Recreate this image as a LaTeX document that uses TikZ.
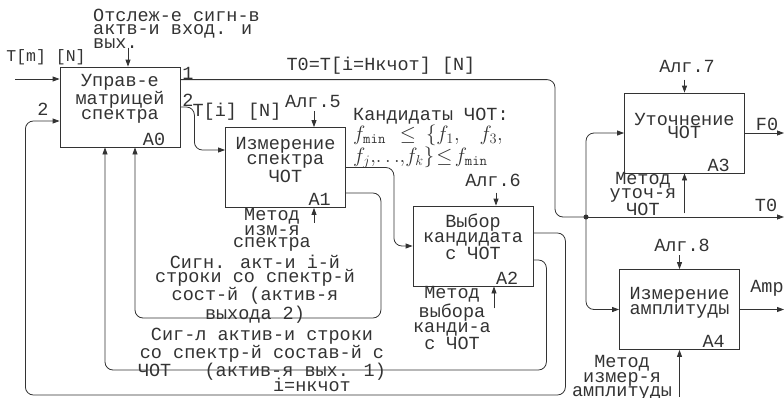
\documentclass[tikz,border=0pt]{standalone}
\usepackage[no-math]{fontspec}
\setmainfont{Liberation Mono}
\usetikzlibrary{arrows.meta}

\begin{document}
\begin{tikzpicture}[x=1pt,y=-1pt,
		box/.style={draw=black!80, line width=0.8pt, minimum width=120pt, minimum height=80pt, inner sep=0pt},
		txt/.style={align=center, inner sep=0pt, text=black!80, font=\fontsize{18.5}{12}\selectfont},
		arr/.style={draw=black!80, line width=0.8pt, rounded corners=8pt, -{Triangle[length=7pt,width=5pt]}},
		wire/.style={draw=black!80, line width=0.8pt, rounded corners=8pt}]
		\useasboundingbox (0,0) rectangle (784,397);
		\node[box] (a0) at (120,107) {};
		\node[box] (a1) at (285.5,167.5) {};
		\node[box] (a2) at (473,246) {};
		\node[box] (a3) at (684.5,133) {};
		\node[box] (a4) at (679.5,309.5) {};
		\node[txt] (a0t) at (120,99) {Управ-е\\матрицей\\спектра};
		\node[txt, font=\fontsize{18.5}{13.5}\selectfont] (a1t) at (285.5,160) {Измерение\\спектра\\ЧОТ};
		\node[txt, font=\fontsize{18.5}{13.5}\selectfont] (a2t) at (473,237) {Выбор\\кандидата\\с ЧОТ};
		\node[txt] (a3t) at (684.5,126) {Уточнение\\ЧОТ};
		\node[txt] (a4t) at (679.5,303) {Измерение\\амплитуды};
		\node[txt, anchor=south east] (a0n) at ([xshift=-15pt,yshift=2pt]a0.south east) {A0};
		\node[txt, anchor=south east] (a1n) at ([xshift=-15pt,yshift=2pt]a1.south east) {A1};
		\node[txt, anchor=south east] (a2n) at ([xshift=-15pt,yshift=2pt]a2.south east) {A2};
		\node[txt, anchor=south east] (a3n) at ([xshift=-15pt,yshift=2pt]a3.south east) {A3};
		\node[txt, anchor=south east] (a4n) at ([xshift=-15pt,yshift=2pt]a4.south east) {A4};

		\coordinate (in0) at (15,79);
		\coordinate (a0c) at ([xshift=8pt]a0.north);
		\coordinate (a0o1) at ([yshift=-13pt]a0.north east);
		\coordinate (a0i2) at ([yshift=-14pt]a0.west);
		\coordinate (a1i) at ([yshift=17.5pt]a1.west);
		\coordinate (a1o2) at ([yshift=-25.5pt]a1.east);
		\coordinate (a1c) at ([xshift=28.5pt]a1.north);
		\coordinate (a1m) at ([xshift=28.5pt]a1.south);
		\coordinate (a2o1) at ([yshift=13pt]a2.east);
		\coordinate (a2o2) at ([yshift=-14pt]a2.east);
		\coordinate (a2c) at ([xshift=23pt]a2.north);
		\coordinate (a2m) at ([xshift=21pt]a2.south);
		\coordinate (a3c) at (a3.north);
		\coordinate (a3m) at (a3.south);
		\coordinate (a4c) at (a4.north);
		\coordinate (a4m) at (a4.south);
		\coordinate (dot) at (586,217);
		\coordinate (t0end) at (784,217);
		\coordinate (f0end) at (784,133);
		\coordinate (ampend) at (784,309.5);

		\draw[arr] (in0) -- (in0 -| a0.west);
		\draw[arr] ([yshift=19pt]a0c) -- (a0c);
		\draw[wire] (a0o1) -| ([xshift=-31pt]dot) -- (dot);
		\draw[arr] (dot) -- (t0end);
		\draw[arr] (dot) |- (a3.west);
		\draw[arr] (dot) |- (a4.west);
		\fill[black!80] (dot) circle (2.5pt);
		\draw[arr] (a0.east) -- ++(14,0) |- (a1i);
		\draw[arr] (a1.east) -- ++(48,0) |- (a2.west);
		\draw[arr] (a1o2) -- ++(35,0) -- ++(0,125) -| ([xshift=15pt]a0.south);
		\draw[arr] (a2o1) -- ++(32,0) -- ++(0,162) -- ++(-540,0) |- (a0i2);
		\draw[arr] (a2o2) -- ++(13,0) -- ++(0,110) -| ([xshift=-15pt]a0.south);
		\draw[arr] ([yshift=16pt]a1c) -- (a1c);
		\draw[arr] ([yshift=-15pt]a1m) -- (a1m);
		\draw[arr] ([yshift=13pt]a2c) -- (a2c);
		\draw[arr] ([yshift=-22pt]a2m) -- (a2m);
		\draw[arr] ([yshift=13pt]a3c) -- (a3c);
		\draw[arr] ([yshift=-40pt]a3m) -- (a3m);
		\draw[arr] ([yshift=14pt]a4c) -- (a4c);
		\draw[arr] ([yshift=-47pt]a4m) -- (a4m);
		\draw[arr] (a3.east) -- (f0end);
		\draw[arr] (a4.east) -- (ampend);

		\node[txt, font=\fontsize{16.5}{12}\selectfont] (tmn) at (46,57) {T[m] [N]};
		\node[txt, align=left, anchor=west, font=\fontsize{18.5}{12.5}\selectfont] (ctl0) at (93,29) {Отслеж-е сигн-в\\актв-и вход. и\\вых.};
		\node[txt] (n1) at (188,73) {1};
		\node[txt] (n2) at (188,100) {2};
		\node[txt] (n2b) at (43,109) {2};
		\node[txt] (t0lbl) at (381,66) {T0=T[i=Нкчот] [N]};
		\node[txt] (tin) at (237,112) {T[i] [N]};
		\node[txt] (alg5) at (313,101) {Алг.5};
		\node[txt] (alg6) at (493,180) {Алг.6};
		\node[txt] (alg7) at (687,66) {Алг.7};
		\node[txt] (alg8) at (682,245) {Алг.8};
		\node[txt] (m1) at (272,230) {Метод\\изм-я\\спектра};
		\node[txt] (m2) at (452,318) {Метод\\выбора\\канди-а\\с ЧОТ};
		\node[txt] (m3) at (643,194) {Метод\\уточ-я\\ЧОТ};
		\node[txt] (m4) at (622,378) {Метод\\измер-я\\амплитуды};
		\node[txt] (fb2) at (255,289) {Сигн. акт-и i-й\\строки со спектр-й\\сост-й (актив-я\\выхода 2)};
		\node[txt] (fb1) at (262,354) {Сиг-л актив-и строки\\со спектр-й состав-й с\\ЧОТ\ \ \ (актив-я вых. 1)};
		\node[txt] (fb0) at (312,385) {i=нкчот};
		\node[txt] (t0) at (766,205) {T0};
		\node[txt] (f0) at (767,124) {F0};
		\node[txt] (amp) at (767,288) {Amp};
		\node[txt, align=left, anchor=west, font=\fontsize{18.5}{17}\selectfont] (cand) at (353,138) {Кандидаты ЧОТ:\\\fontsize{22}{17}\selectfont$f_{\mathtt{min}}$\hspace{14pt}$\le$\hspace{10pt}$\{f_1,$\hspace{20pt}$f_3,$\\\fontsize{22}{17}\selectfont$f_j{,}{\ldots}{,}f_k\}\!\le\! f_{\mathtt{min}}$};
	\end{tikzpicture}
\end{document}
